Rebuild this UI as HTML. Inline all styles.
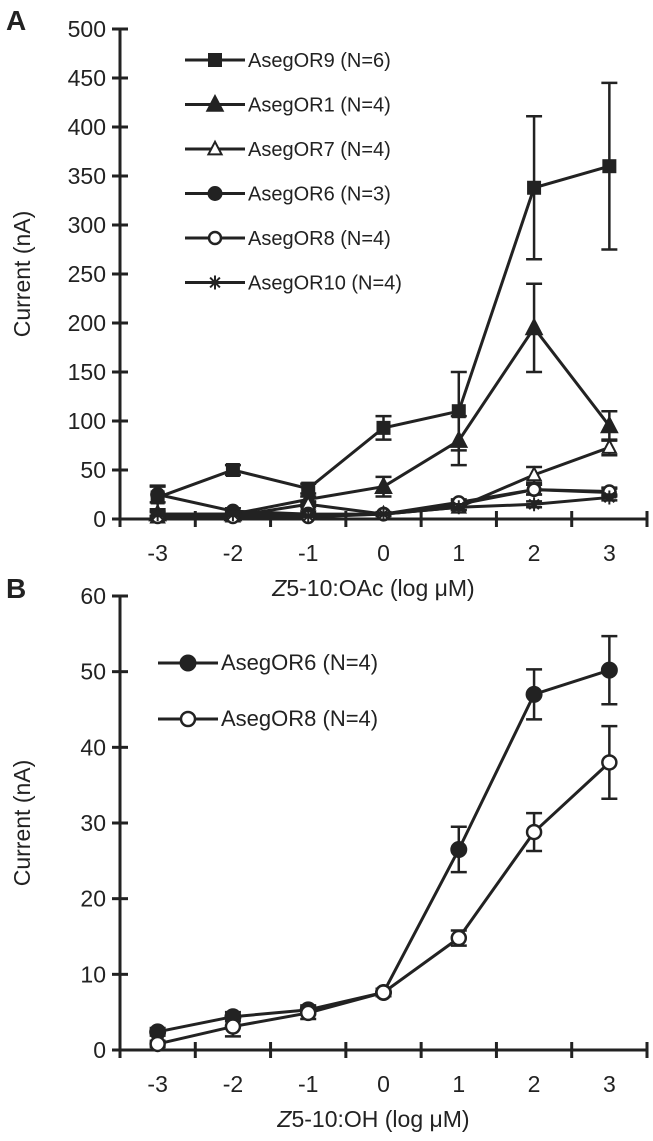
<!DOCTYPE html>
<html><head><meta charset="utf-8"><style>
html,body{margin:0;padding:0;background:#fff;}
svg{display:block;font-family:"Liberation Sans",sans-serif;}
</style></head><body>
<svg id="chart" width="653" height="1141" viewBox="0 0 653 1141"></svg>
<script>
const categories = [-3,-2,-1,0,1,2,3];
const aTicks = [0,50,100,150,200,250,300,350,400,450,500];
const bTicks = [0,10,20,30,40,50,60];
const or9A = [22,50,31,93,110,338,360];
const or9AErr = [12,5,5,12,40,73,85];
const or1A = [5,5,20,33,80,195,95];
const or1AErr = [3,2,3,10,25,45,15];
const or7A = [2,3,15,5,12,45,73];
const or7AErr = [1,1,3,2,3,8,8];
const or6A = [25,8,5,5,15,30,27];
const or6AErr = [8,3,2,1,3,5,4];
const or8A = [2,2,2,5,17,30,28];
const or8AErr = [1,1,1,1,3,5,4];
const or10A = [5,5,3,5,12,15,22];
const or10AErr = [2,2,1,1,3,3,3];
const or6B = [2.4,4.4,5.3,7.6,26.5,47,50.2];
const or6BErr = [0.5,0.6,0.6,0.5,3,3.3,4.5];
const or8B = [0.8,3.1,4.9,7.6,14.8,28.8,38];
const or8BErr = [0.4,1.3,0.8,0.5,1,2.5,4.8];

const NS="http://www.w3.org/2000/svg";
const svg=document.getElementById('chart');
function mk(tag,attrs,parent){const e=document.createElementNS(NS,tag);for(const k in attrs)e.setAttribute(k,attrs[k]);(parent||svg).appendChild(e);return e;}
function txt(x,y,s,size,anchor,parent,extra){const t=mk('text',Object.assign({x:x,y:y,'font-size':size,'text-anchor':anchor||'middle',fill:'#222'},extra||{}),parent);t.textContent=s;return t;}

function marker(g,type,x,y,s){
  let e;
  if(type==='square'){e=mk('rect',{x:x-s,y:y-s,width:2*s,height:2*s,fill:'#222'},g);}
  else if(type==='tri'||type==='otri'){e=mk('polygon',{points:`${x},${y-s*1.2} ${x-s*1.1},${y+s*0.9} ${x+s*1.1},${y+s*0.9}`,fill:type==='tri'?'#222':'#fff',stroke:'#222','stroke-width':2},g);}
  else if(type==='circle'||type==='ocircle'){e=mk('circle',{cx:x,cy:y,r:s,fill:type==='circle'?'#222':'#fff',stroke:'#222','stroke-width':type==='circle'?1:2.5},g);}
  else if(type==='star'){e=mk('path',{d:`M${x-s},${y}H${x+s}M${x},${y-s}V${y+s}M${x-s*0.7},${y-s*0.7}L${x+s*0.7},${y+s*0.7}M${x-s*0.7},${y+s*0.7}L${x+s*0.7},${y-s*0.7}`,stroke:'#222','stroke-width':2,fill:'none'},g);}
  
  
}

function panel(cfg){
  const g=mk('g',{});
  
  
  const x0=120,x1=647,yTop=cfg.yTop,yBot=cfg.yBot,ymax=cfg.ticks[cfg.ticks.length-1];
  const step=(x1-x0)/categories.length;
  const xs=i=>x0+step*(i+0.5);
  const ys=v=>yBot-(v/ymax)*(yBot-yTop);
  const ax=mk('path',{d:`M${x0},${yTop}V${yBot}H${x1}`,stroke:'#222','stroke-width':3,fill:'none'},g);
  
  
  cfg.ticks.forEach(t=>{
    mk('line',{x1:x0-8,x2:x0+8,y1:ys(t),y2:ys(t),stroke:'#222','stroke-width':3},g);
    const l=txt(106,ys(t)+8,String(t),23,'end',g);
    
    
  });
  for(let i=0;i<=categories.length;i++){mk('line',{x1:x0+step*i,x2:x0+step*i,y1:yBot-8,y2:yBot+8,stroke:'#222','stroke-width':3},g);}
  categories.forEach((c,i)=>{const l=txt(xs(i),yBot+42,String(c),23,'middle',g);
    
    });
  const yt=txt(0,0,'Current (nA)',23,'middle',g,{transform:`translate(30,${(yTop+yBot)/2}) rotate(-90)`});
  
  
  const xt=mk('text',{x:(x0+x1)/2-10,y:yBot+77,'font-size':23,'text-anchor':'middle',fill:'#222'},g);
  xt.innerHTML=`<tspan font-style="italic">Z</tspan>5-10:${cfg.comp} (log μM)`;
  
  
  const pl=txt(6,cfg.labelY,cfg.label,28,'start',g,{'font-weight':'bold'});
  
  
  cfg.series.forEach(s=>{
    const sg=mk('g',{},g);
    
    
    const pts=s.vals.map((v,i)=>`${xs(i)},${ys(v)}`).join(' ');
    mk('polyline',{points:pts,fill:'none',stroke:'#222','stroke-width':3},sg);
    s.vals.forEach((v,i)=>{
      const e=s.err[i],x=xs(i),a=ys(v+e),b=ys(Math.max(0,v-e));
      mk('path',{d:`M${x},${a}V${b}M${x-8},${a}H${x+8}M${x-8},${b}H${x+8}`,stroke:'#222','stroke-width':2.5,fill:'none'},sg);
    });
    s.vals.forEach((v,i)=>marker(sg,s.m,xs(i),ys(v),s.size||7));
  });
  cfg.series.forEach((s,k)=>{
    const lg=mk('g',{},g);
    
    
    const y=cfg.legY+k*cfg.legStep;
    mk('line',{x1:cfg.legX,x2:cfg.legX+60,y1:y,y2:y,stroke:'#222','stroke-width':3},lg);
    marker(lg,s.m,cfg.legX+30,y,s.size||7);
    txt(cfg.legX+63,y+7,s.label,cfg.legFont,'start',lg);
  });
}

panel({name:'panel-a',label:'A',labelY:30,comp:'OAc',yTop:29,yBot:519,ticks:aTicks,legX:185,legY:60,legStep:44.5,legFont:20,
  series:[
    {id:'or9',m:'square',vals:or9A,err:or9AErr,label:'AsegOR9 (N=6)'},
    {id:'or1',m:'tri',vals:or1A,err:or1AErr,label:'AsegOR1 (N=4)'},
    {id:'or7',m:'otri',vals:or7A,err:or7AErr,label:'AsegOR7 (N=4)',size:6},
    {id:'or6',m:'circle',vals:or6A,err:or6AErr,label:'AsegOR6 (N=3)'},
    {id:'or8',m:'ocircle',vals:or8A,err:or8AErr,label:'AsegOR8 (N=4)',size:6},
    {id:'or10',m:'star',vals:or10A,err:or10AErr,label:'AsegOR10 (N=4)'}
  ]});
panel({name:'panel-b',label:'B',labelY:598,comp:'OH',yTop:596,yBot:1050,ticks:bTicks,legX:158,legY:663,legStep:56,legFont:22,
  series:[
    {id:'or6',m:'circle',vals:or6B,err:or6BErr,label:'AsegOR6 (N=4)',size:8},
    {id:'or8',m:'ocircle',vals:or8B,err:or8BErr,label:'AsegOR8 (N=4)',size:7}
  ]});
</script>
</body></html>
